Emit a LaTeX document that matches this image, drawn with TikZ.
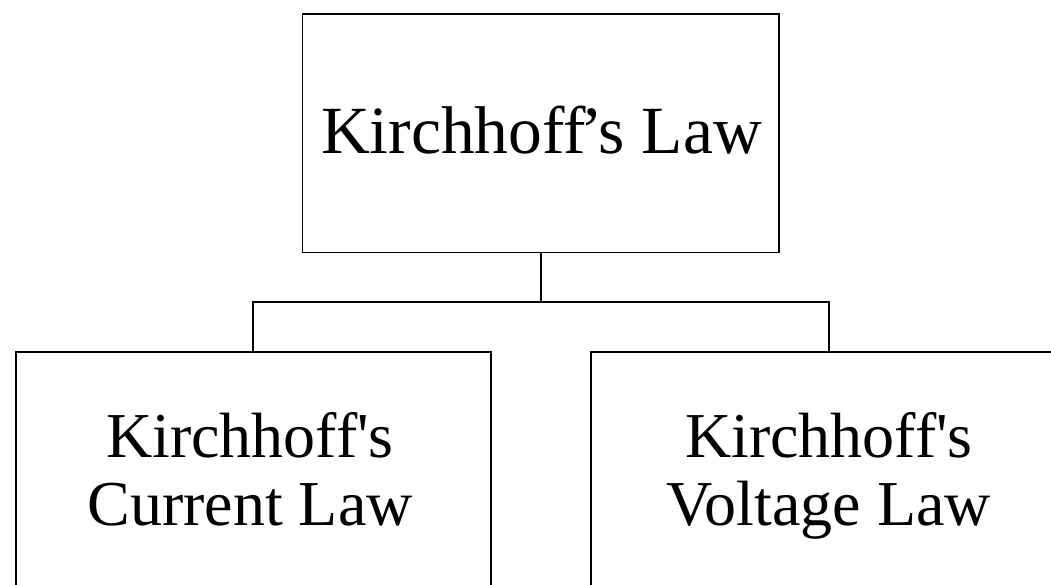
\documentclass[tikz,border=0pt]{standalone}
\usepackage{fontspec}
\setmainfont{Liberation Serif}[Ligatures=TeXOff]
\begin{document}
\begin{tikzpicture}[x=1pt,y=-1pt,
  box/.style={draw, line width=1.9pt, minimum width=475pt, minimum height=238pt, inner sep=0pt, outer sep=0pt},
  lbl/.style={align=center, inner sep=0pt, font=\fontsize{64}{68}\selectfont},
  link/.style={line width=1.9pt}]
\useasboundingbox (0,0) rectangle (1051,585);
\clip (0,0) rectangle (1051,585);
\node[box, minimum width=476.5pt, minimum height=238.5pt] (top) at (540.7,133.2) {};
\node[box] (cl) at (253.2,471.3) {};
\node[box, minimum width=476pt] (vl) at (828.7,471.3) {};
\node[lbl, font=\fontsize{67.5}{68}\selectfont, anchor=base] (tt) at (541.5,154) {Kirchhoff\kern-0.09em’s Law};
\node[lbl, anchor=base] (ct) at (250,525) {Kirchhoff's\\Current Law};
\node[lbl, anchor=base] (vt) at (829,525) {Kirchhoff's\\Voltage Law};
\path (top.south) -- ++(0,49.9) coordinate (j);
\draw[link] (top.south) -- (j);
\draw[link] (cl.north) |- (j) -| (vl.north);
\end{tikzpicture}
\end{document}
